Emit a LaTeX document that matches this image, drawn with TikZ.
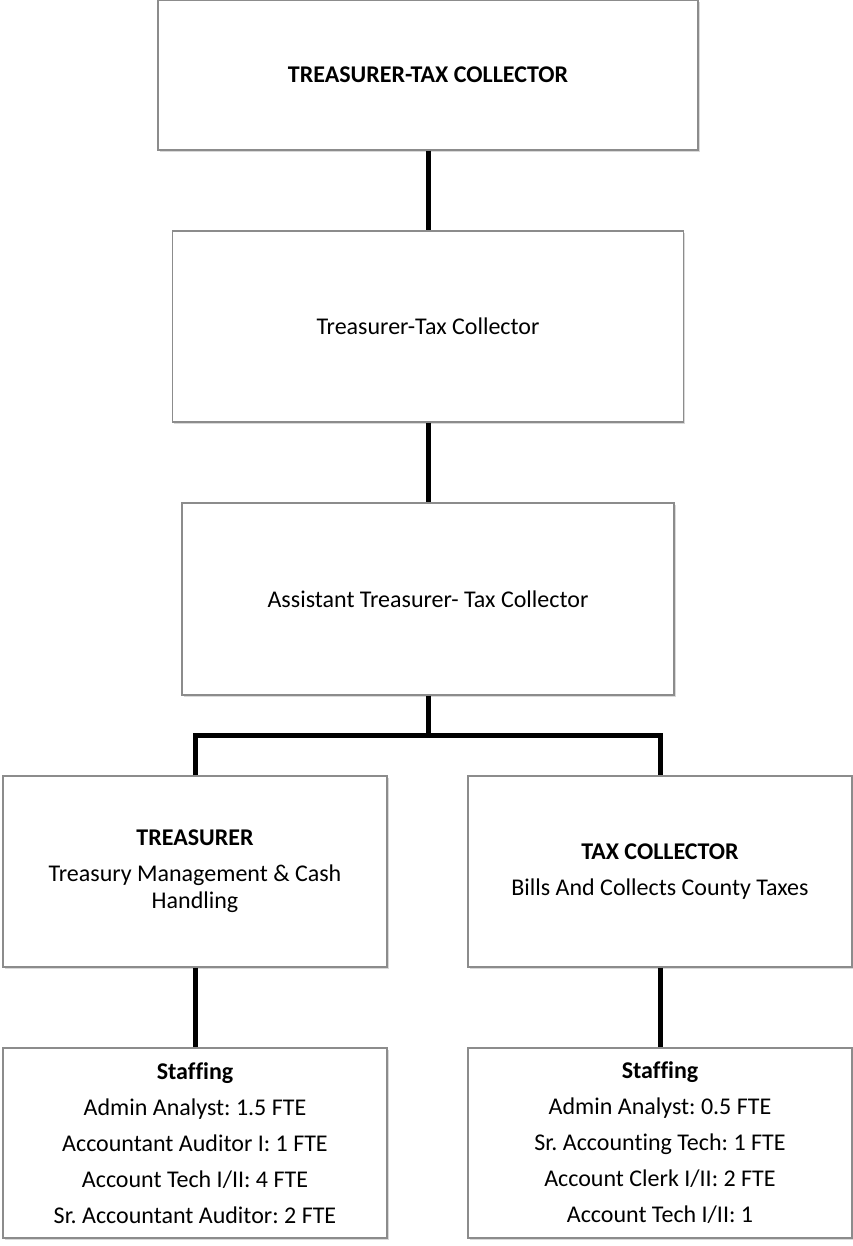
\documentclass[tikz,border=0pt]{standalone}
\usepackage{fontspec}
\setmainfont{Carlito}[Ligatures=NoCommon]
\usetikzlibrary{shadows}
\frenchspacing

\begin{document}
\begin{tikzpicture}[x=0.75pt, y=-0.75pt,
        box/.style={draw=black!45, line width=1pt, fill=white, align=center, inner sep=0pt,
            font=\fontsize{18}{20.25}\selectfont,
            drop shadow={shadow xshift=1.2pt, shadow yshift=-1.8pt, opacity=0.3}},
        link/.style={line width=3.75pt}]
            \useasboundingbox (0,0) rectangle (853,1246);

            % Top level
            \node[box, minimum width=405pt, minimum height=112.5pt] (head) at (428,75) {\textbf{TREASURER-TAX COLLECTOR}};
            \node[box, minimum width=383.25pt, minimum height=143.25pt] (ttc) at (428,326.5) {Treasurer-Tax Collector};
            \node[box, minimum width=369pt, minimum height=144pt] (asst) at (428,599) {Assistant Treasurer- Tax Collector};

            % Divisions
            \node[box, minimum width=288pt, minimum height=143.25pt] (tres) at (195,871.5)
                {\textbf{TREASURER}\\[6.75pt]Treasury Management \& Cash\\Handling};
            \node[box, minimum width=288pt, minimum height=143.25pt] (tax) at (660,871.5)
                {\textbf{TAX COLLECTOR}\\[6.75pt]Bills And Collects County Taxes};

            % Staffing boxes
            \node[box, minimum width=288pt, minimum height=142.5pt] (tresstaff) at (195,1143)
                {\textbf{Staffing}\\[6.75pt]Admin Analyst: 1.5 FTE\\[6.75pt]Accountant Auditor I: 1 FTE\\[6.75pt]Account Tech I/II: 4 FTE\\[6.75pt]Sr. Accountant Auditor: 2 FTE};
            \node[box, minimum width=288pt, minimum height=142.5pt] (taxstaff) at (660,1143)
                {\textbf{Staffing}\\[6.75pt]Admin Analyst: 0.5 FTE\\[6.75pt]Sr. Accounting Tech: 1 FTE\\[6.75pt]Account Clerk I/II: 2 FTE\\[6.75pt]Account Tech I/II: 1};

            % Connectors
            \coordinate (bus) at (428,735);
            \draw[link] (head.south) -- (ttc.north);
            \draw[link] (ttc.south) -- (asst.north);
            \draw[link] (asst.south) -- (bus);
            \draw[link] (tres.north) |- (bus) -| (tax.north);
            \draw[link] (tres.south) -- (tresstaff.north);
            \draw[link] (tax.south) -- (taxstaff.north);
        \end{tikzpicture}
\end{document}
